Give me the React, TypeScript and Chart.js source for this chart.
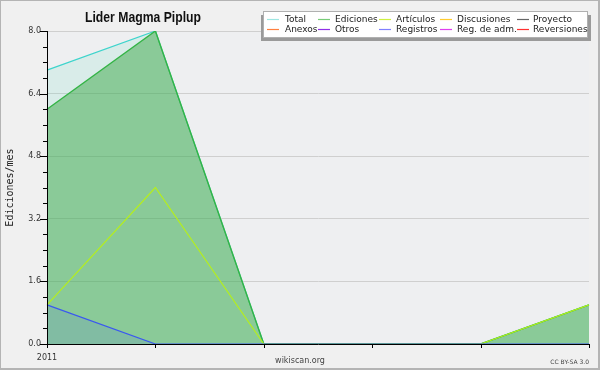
import React, { useEffect, useRef } from "react";
import { Chart, registerables } from "chart.js";

Chart.register(...registerables);

// ---- data ----
const xLabels = ["2011", "", "", "", "", ""];
const total = [7, 8, 0, 0, 0, 1];
const ediciones = [6, 8, 0, 0, 0, 1];
const articulos = [1, 4, 0, 0, 0, 1];
const registros = [1, 0, 0, 0, 0, 0];

const yMin = 0;
const yMax = 8;
const yMajorStep = 1.6;
const yMinorStep = 0.4;

const chartTitle = "Lider Magma Piplup";
const yTitle = "Ediciones/mes";
const footerCenter = "wikiscan.org";
const footerRight = "CC BY-SA 3.0";

const legendNames = [
  "Total", "Ediciones", "Artículos", "Discusiones", "Proyecto",
  "Anexos", "Otros", "Registros", "Reg. de adm.", "Reversiones",
];
const legendColors = [
  "#9ee6e2", "#78cc78", "#cef040", "#ffcc30", "#666666",
  "#ff8040", "#9030e8", "#8080ff", "#e040f0", "#ff3030",
];

const isMajor = (v: number) => {
  const r = v / yMajorStep;
  return Math.abs(r - Math.round(r)) < 1e-6;
};

const decorPlugin = {
  id: "decor",
  beforeDraw(chart: any) {
    const { ctx, chartArea: a, width, height } = chart;
    ctx.save();
    ctx.fillStyle = "#f0f0f0";
    ctx.fillRect(0, 0, width, height);
    ctx.fillStyle = "#eeeff1";
    ctx.fillRect(a.left, a.top, a.right - a.left, a.bottom - a.top);
    // frame
    ctx.fillStyle = "#b4b4b4";
    ctx.fillRect(0, 0, width, 1);
    ctx.fillRect(0, 0, 1, height);
    ctx.fillRect(width - 2, 0, 2, height);
    ctx.fillRect(0, height - 2, width, 2);
    ctx.restore();
  },
  afterDraw(chart: any) {
    const { ctx, chartArea: a } = chart;
    const xs = chart.scales.x;
    const ys = chart.scales.y;
    ctx.save();
    // tick marks
    ctx.strokeStyle = "#000";
    ctx.lineWidth = 1;
    ctx.beginPath();
    ys.ticks.forEach((t: any) => {
      const y = Math.round(ys.getPixelForValue(t.value)) + 0.5;
      const len = isMajor(t.value) ? 7 : 4;
      ctx.moveTo(a.left - len, y);
      ctx.lineTo(a.left, y);
    });
    xLabels.forEach((_, i) => {
      const x = Math.round(xs.getPixelForValue(i)) + 0.5;
      ctx.moveTo(x, a.bottom);
      ctx.lineTo(x, a.bottom + 4);
    });
    ctx.stroke();

    // title (horizontally condensed to match the narrow original face)
    ctx.save();
    ctx.fillStyle = "#111";
    ctx.font = 'bold 15px "Liberation Sans", sans-serif';
    ctx.textAlign = "center";
    ctx.textBaseline = "alphabetic";
    const w = ctx.measureText(chartTitle).width;
    const sx = Math.min(1, 116 / w);
    ctx.translate(143, 22);
    ctx.scale(sx, 1);
    ctx.fillText(chartTitle, 0, 0);
    ctx.restore();

    // y title
    ctx.save();
    ctx.translate(10, (a.top + a.bottom) / 2);
    ctx.rotate(-Math.PI / 2);
    ctx.font = '10px "DejaVu Sans Mono", monospace';
    ctx.fillStyle = "#222";
    ctx.textAlign = "center";
    ctx.textBaseline = "middle";
    ctx.fillText(yTitle, 0, 0);
    ctx.restore();

    // footer
    ctx.font = '8px "DejaVu Sans", sans-serif';
    ctx.fillStyle = "#444";
    ctx.textAlign = "center";
    ctx.textBaseline = "middle";
    ctx.fillText(footerCenter, 300, 361);
    ctx.font = '6px "DejaVu Sans", sans-serif';
    ctx.textAlign = "right";
    ctx.fillText(footerRight, 589, 362);

    // legend
    ctx.fillStyle = "#9a9a9a";
    ctx.fillRect(261, 15, 330, 26);
    ctx.fillStyle = "#ffffff";
    ctx.fillRect(263, 11, 325, 27);
    ctx.strokeStyle = "#b0b0b0";
    ctx.lineWidth = 1;
    ctx.strokeRect(263.5, 11.5, 324, 26);
    const lineX = [267, 318, 379, 440, 517];
    const textX = [285, 335, 396, 457, 533];
    const rowY = [19, 29];
    ctx.font = '9px "DejaVu Sans", sans-serif';
    ctx.textAlign = "left";
    ctx.textBaseline = "middle";
    legendNames.forEach((name, i) => {
      const col = i % 5;
      const row = Math.floor(i / 5);
      const y = rowY[row];
      ctx.strokeStyle = legendColors[i];
      ctx.lineWidth = 1.2;
      ctx.beginPath();
      ctx.moveTo(lineX[col], y + 0.5);
      ctx.lineTo(lineX[col] + 12, y + 0.5);
      ctx.stroke();
      ctx.fillStyle = "#222";
      ctx.fillText(name, textX[col], y + 1);
    });
    ctx.restore();
  },
};

export default function App() {
  const ref = useRef<HTMLCanvasElement | null>(null);
  useEffect(() => {
    document.body.style.margin = "0";
    const canvas = ref.current;
    if (!canvas) return;
    Chart.defaults.font.family = '"DejaVu Sans", sans-serif';
    const chart = new Chart(canvas, {
      type: "line",
      data: {
        labels: xLabels,
        datasets: [
          {
            label: "Registros",
            data: registros,
            borderColor: "#3a58f0",
            backgroundColor: "rgba(70,100,240,0.13)",
            fill: "origin",
            borderWidth: 1.2,
          },
          {
            label: "Artículos",
            data: articulos,
            borderColor: "#b4ee1e",
            backgroundColor: "rgba(0,0,0,0)",
            fill: false,
            borderWidth: 1.2,
          },
          {
            label: "Ediciones",
            data: ediciones,
            borderColor: "#34b446",
            backgroundColor: "rgba(60,168,72,0.5)",
            fill: "origin",
            borderWidth: 1.4,
          },
          {
            label: "Total",
            data: total,
            borderColor: "#3ed4cc",
            backgroundColor: "rgba(120,220,200,0.18)",
            fill: "origin",
            borderWidth: 1.2,
          },
        ],
      },
      options: {
        responsive: false,
        animation: false,
        devicePixelRatio: 1,
        layout: { padding: { left: 0, top: 31, right: 11, bottom: 0 } },
        elements: { point: { radius: 0 }, line: { tension: 0 } },
        plugins: {
          legend: { display: false },
          title: { display: false },
          tooltip: { enabled: false },
        },
        scales: {
          x: {
            type: "category",
            grid: { display: false },
            border: { display: true, color: "#000", width: 1, z: 1 },
            ticks: {
              autoSkip: false,
              maxRotation: 0,
              padding: 1,
              color: "#333",
              font: { size: 8, family: '"DejaVu Sans", sans-serif' },
            },
            afterFit: (s: any) => {
              s.height = 26;
            },
          },
          y: {
            min: yMin,
            max: yMax,
            grid: {
              drawTicks: false,
              color: (c: any) => (c.tick && isMajor(c.tick.value) ? "#cfcfcf" : "rgba(0,0,0,0)"),
            },
            border: { display: true, color: "#000", width: 1, z: 1 },
            ticks: {
              stepSize: yMinorStep,
              autoSkip: false,
              padding: 6,
              color: "#333",
              font: { size: 8, family: '"DejaVu Sans", sans-serif' },
              callback: (v: any) => (isMajor(Number(v)) ? Number(v).toFixed(1) : ""),
            },
            afterFit: (s: any) => {
              s.width = 47;
            },
          },
        },
      },
      plugins: [decorPlugin],
    } as any);
    return () => chart.destroy();
  }, []);
  return (
    <div style={{ position: "absolute", left: 0, top: 0, width: 600, height: 370 }}>
      <canvas ref={ref} width={600} height={370} style={{ display: "block" }} />
    </div>
  );
}
